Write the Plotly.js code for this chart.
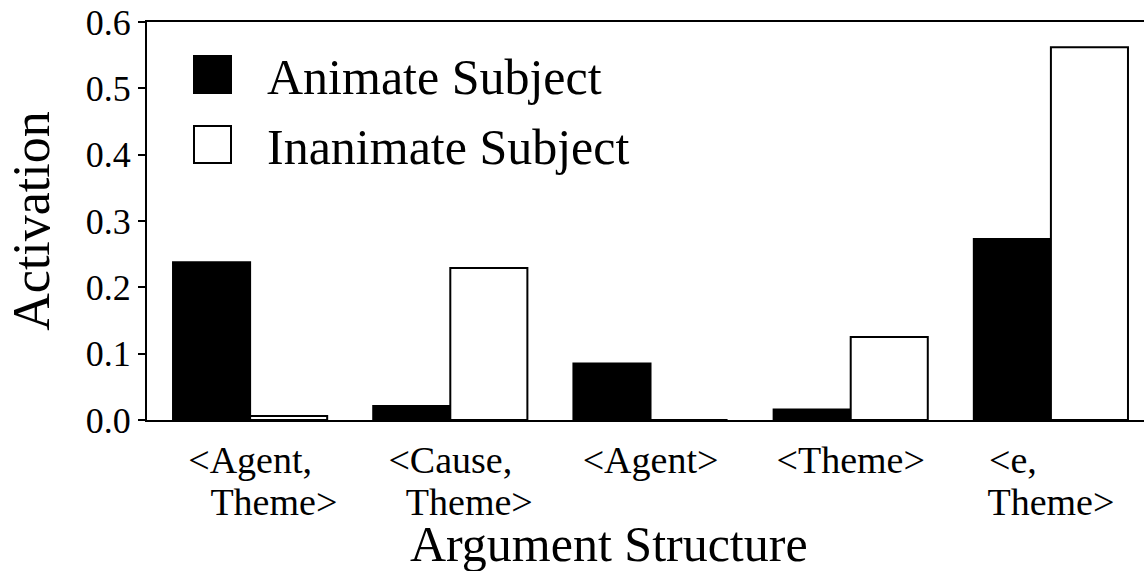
<!DOCTYPE html>
<html>
<head>
<meta charset="utf-8">
<script src="https://cdn.plot.ly/plotly-3.0.1.min.js"></script>
<style>html,body{margin:0;padding:0;background:#fff;}#chart{width:1144px;height:571px;}</style>
</head>
<body>
<div id="chart"></div>
<script>
const categories = ['<Agent, Theme>', '<Cause, Theme>', '<Agent>', '<Theme>', '<e, Theme>'];
const tickLine1 = ['&lt;Agent,', '&lt;Cause,', '&lt;Agent&gt;', '&lt;Theme&gt;', '&lt;e,' + '&nbsp;'.repeat(8)];
const tickLine2 = ['&nbsp;'.repeat(5) + 'Theme&gt;', '&nbsp;'.repeat(4) + 'Theme&gt;', '', '', 'Theme&gt;'];
const seriesNames = ['Animate Subject', 'Inanimate Subject'];
const animate = [0.238, 0.021, 0.085, 0.016, 0.273];
const inanimate = [0.006, 0.229, 0.0, 0.125, 0.562];
const yTicks = [0, 0.1, 0.2, 0.3, 0.4, 0.5, 0.6];
const xTitle = 'Argument Structure';
const yTitle = 'Activation';

const FONT = '"Liberation Serif", "Times New Roman", Times, serif';
const idx = categories.map((c, i) => i);

const M = {l: 147, r: 0, t: 22, b: 151};
const W = 1144, H = 571;
const pw = W - M.l - M.r, ph = H - M.t - M.b;
const px = v => (v - M.l) / pw;
const py = v => (H - M.b - v) / ph;

const traces = [
  {type: 'bar', name: seriesNames[0], x: idx, y: animate, xaxis: 'x', yaxis: 'y',
   marker: {color: '#000', line: {color: '#000', width: 2}}, showlegend: false},
  {type: 'bar', name: seriesNames[1], x: idx, y: inanimate, xaxis: 'x', yaxis: 'y',
   marker: {color: '#fff', line: {color: '#000', width: 2}}, showlegend: false},
  {type: 'scatter', mode: 'markers', x: idx, y: animate, xaxis: 'x2', yaxis: 'y',
   marker: {opacity: 0}, hoverinfo: 'skip', showlegend: false}
];

const legendItems = [
  {fill: '#000', top: 56, text: seriesNames[0]},
  {fill: '#fff', top: 126, text: seriesNames[1]}
];
const shapes = legendItems.map(it => ({
  type: 'rect', xref: 'paper', yref: 'paper',
  x0: px(194), x1: px(231), y0: py(it.top), y1: py(it.top + 37),
  fillcolor: it.fill, line: {color: '#000', width: 2}
}));
const annotations = legendItems.map(it => ({
  xref: 'paper', yref: 'paper', x: px(265), y: py(it.top + 21),
  xanchor: 'left', yanchor: 'middle', showarrow: false, text: it.text,
  font: {family: FONT, size: 50, color: '#000'}
}));
annotations.push({
  xref: 'paper', yref: 'paper', x: px(609), y: py(544),
  xanchor: 'center', yanchor: 'middle', showarrow: false, text: xTitle,
  font: {family: FONT, size: 50, color: '#000'}, borderpad: 0
});

const xr = [-0.515, 4.465];
const layout = {
  width: W, height: H,
  margin: M,
  paper_bgcolor: '#fff', plot_bgcolor: '#fff',
  font: {family: FONT, color: '#000'},
  barmode: 'group', bargap: 0.23, bargroupgap: 0,
  xaxis: {
    range: xr, tickvals: idx, ticktext: tickLine1, showgrid: false, zeroline: false,
    showline: true, linecolor: '#000', linewidth: 2, mirror: true, ticks: '',
    tickfont: {family: FONT, size: 38, color: '#000'}, ticklabelstandoff: 5
  },
  xaxis2: {
    range: xr, overlaying: 'x', anchor: 'y', side: 'bottom', tickvals: idx, ticktext: tickLine2,
    showgrid: false, zeroline: false, showline: false, ticks: '',
    tickfont: {family: FONT, size: 38, color: '#000'}, ticklabelstandoff: 56
  },
  yaxis: {
    range: [0, 0.6], tickvals: yTicks, tickformat: '.1f', showgrid: false, zeroline: false,
    showline: true, linecolor: '#000', linewidth: 2, ticks: 'outside', ticklen: 7, tickwidth: 2, tickcolor: '#000',
    tickfont: {family: FONT, size: 36, color: '#000'},
    title: {text: yTitle, font: {family: FONT, size: 52, color: '#000'}, standoff: 20}
  },
  shapes: shapes,
  annotations: annotations,
  showlegend: false
};

Plotly.newPlot('chart', traces, layout, {staticPlot: true, displayModeBar: false});
</script>
</body>
</html>
